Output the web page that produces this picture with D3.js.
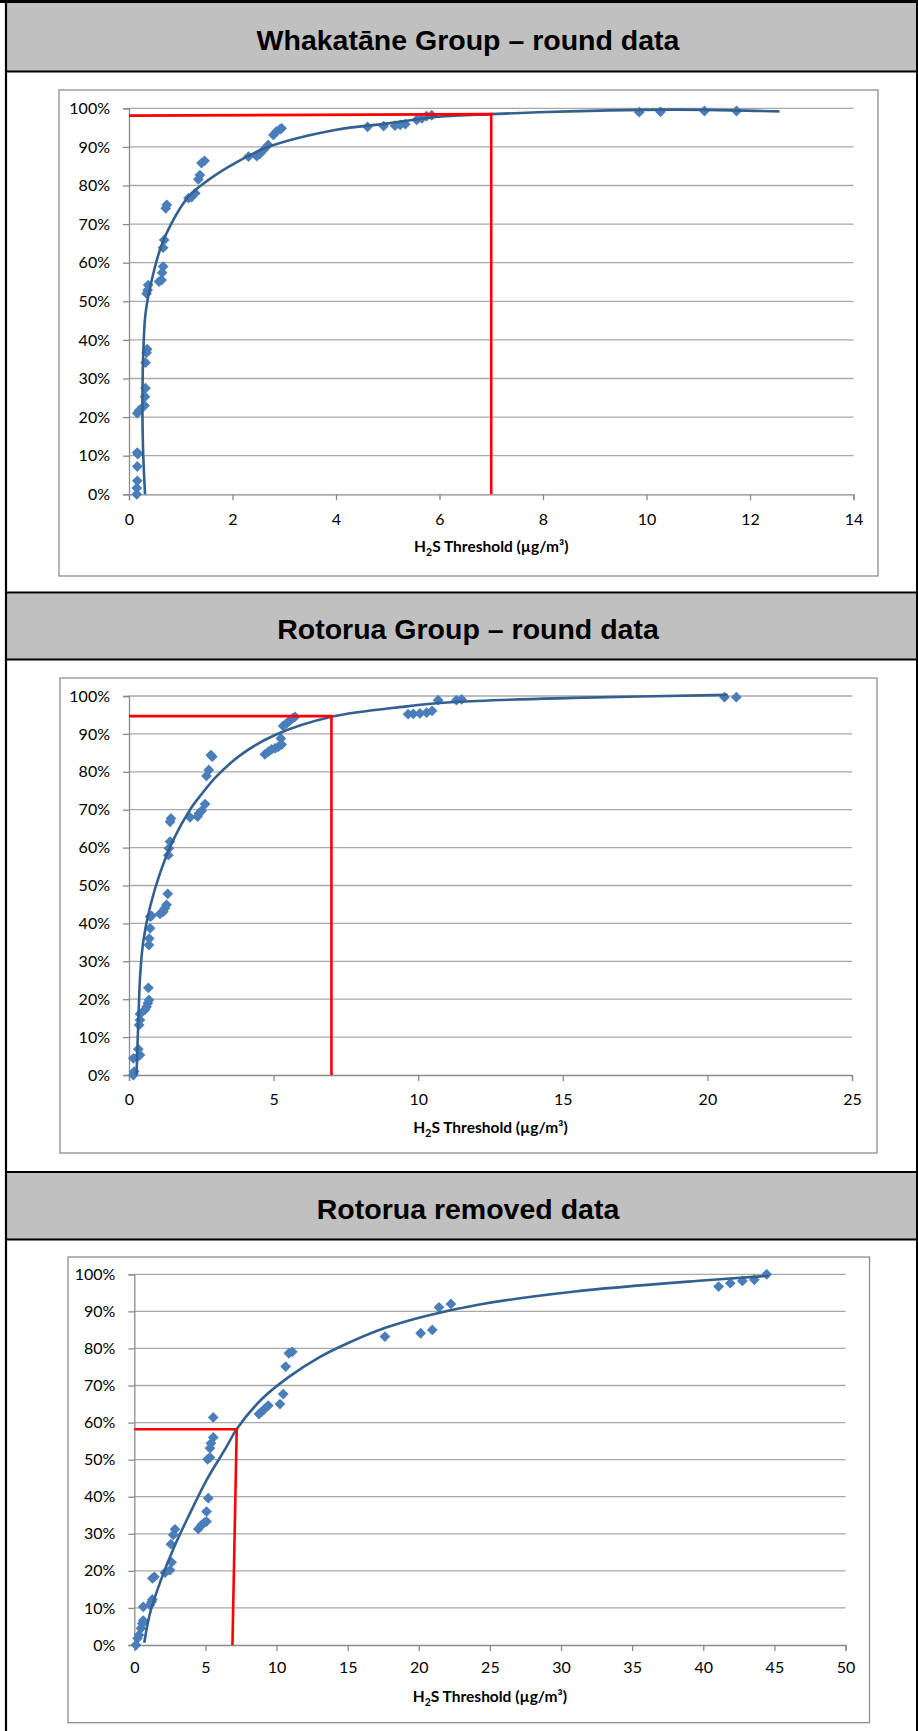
<!DOCTYPE html>
<html>
<head>
<meta charset="utf-8">
<script src="https://cdn.jsdelivr.net/npm/d3@7"></script>
<style>
  body { margin: 0; background: #fff; }
  svg { display: block; }
</style>
</head>
<body>
<div id="page"></div>
<script>
// ---- data ----

var titles = ["Whakatāne Group – round data", "Rotorua Group – round data", "Rotorua removed data"];
var yTicks = [0, 10, 20, 30, 40, 50, 60, 70, 80, 90, 100];

// Whakatane group
var whakTicks = [0, 2, 4, 6, 8, 10, 12, 14];
var whakX = [0.15, 0.15, 0.16, 0.16, 0.17, 0.16, 0.16, 0.2, 0.30, 0.31, 0.32, 0.32, 0.34, 0.35, 0.34, 0.36, 0.37,
  0.58, 0.63, 0.64, 0.66, 0.66, 0.68, 0.71, 0.73, 1.15, 1.21, 1.28, 1.34, 1.37, 1.40, 1.46,
  2.31, 2.47, 2.53, 2.60, 2.69, 2.79, 2.85, 2.92, 2.95, 4.61, 4.92, 5.14, 5.24, 5.34, 5.56, 5.66, 5.75, 5.85,
  9.86, 10.27, 11.12, 11.74];
var whakY = [0, 1.6, 3.5, 7.2, 10.4, 10.8, 21.0, 21.8, 23.0, 25.3, 27.5, 34.1, 36.7, 37.6, 52.0, 52.9, 54.2,
  55.1, 55.5, 57.4, 59.0, 63.9, 65.9, 74.1, 75.0, 76.7, 77.0, 78.0, 81.6, 82.7, 85.8, 86.4,
  87.5, 87.6, 88.2, 89.2, 90.5, 93.1, 94.0, 94.6, 94.8, 95.2, 95.4, 95.5, 95.7, 95.9, 97.0, 97.4, 98.0, 98.2,
  99.0, 99.1, 99.3, 99.3];
var whakFitX = [0.31, 0.27, 0.26, 0.28, 0.32, 0.44, 0.62, 0.82, 1.15, 1.53, 2.05, 2.69, 3.98, 5.01, 5.98, 7.0, 8.5, 9.9, 11.2, 12.57];
var whakFitY = [0, 12.3, 25.3, 38.0, 46.9, 55.5, 64.2, 70.2, 77.1, 81.4, 85.8, 90.0, 94.4, 96.1, 97.8, 98.5, 99.2, 99.6, 99.6, 99.2];
var whakRefX = [0, 7, 7];
var whakRefY = [98.1, 98.5, 0];

// Rotorua group
var rotTicks = [0, 5, 10, 15, 20, 25];
var rotX = [0.15, 0.18, 0.15, 0.30, 0.38, 0.32, 0.35, 0.38, 0.38, 0.55, 0.61, 0.65, 0.69, 0.67,
  0.69, 0.70, 0.73, 0.73, 0.78, 1.07, 1.19, 1.24, 1.30, 1.34, 1.36, 1.38, 1.42, 1.42, 1.45,
  2.11, 2.37, 2.42, 2.51, 2.63, 2.68, 2.76, 2.83, 2.88,
  4.70, 4.82, 4.93, 5.05, 5.16, 5.28, 5.25, 5.33, 5.45, 5.56, 5.65, 5.74,
  9.65, 9.83, 10.06, 10.29, 10.48, 10.69, 11.32, 11.5, 20.59, 21.0];
var rotY = [0, 0.9, 4.4, 4.8, 5.3, 6.8, 13.2, 14.5, 16.1, 17.2, 18.0, 18.9, 19.8, 23.0,
  34.3, 36.0, 38.7, 41.8, 42.0, 42.5, 43.1, 44.0, 44.9, 47.8, 58.0, 59.8, 61.6, 66.8, 67.7,
  68.0, 68.2, 69.0, 69.7, 71.5, 78.9, 80.5, 84.4, 84.0,
  84.6, 85.3, 85.9, 86.2, 86.6, 87.2, 88.8, 92.1, 92.8, 93.5, 94.1, 94.5,
  95.2, 95.3, 95.4, 95.6, 96.1, 98.9, 98.9, 99.1, 99.7, 99.7];
var rotFitX = [0.26, 0.32, 0.39, 0.50, 0.73, 1.07, 1.53, 2.11, 2.5, 3.0, 3.89, 5.05, 7.0, 9.54, 11.27, 15.37, 20.7];
var rotFitY = [0, 13.6, 26.8, 35.6, 44.4, 53.2, 62.0, 70.0, 74.0, 78.6, 84.6, 89.7, 94.5, 97.2, 98.4, 99.5, 100.3];
var rotRefX = [0, 7, 7];
var rotRefY = [94.7, 94.7, 0];

// Rotorua removed
var remTicks = [0, 5, 10, 15, 20, 25, 30, 35, 40, 45, 50];
var remX = [0.12, 0.23, 0.33, 0.47, 0.56, 0.63, 0.63, 1.10, 1.22, 1.27, 1.27, 1.41, 2.16, 2.51, 2.62,
  2.58, 2.74, 2.86, 4.50, 4.73, 4.92, 5.08, 5.08, 5.20, 5.15, 5.32, 5.32, 5.39, 5.55, 5.55,
  8.76, 8.95, 9.14, 9.42, 10.24, 10.47, 10.64, 10.87, 11.11,
  17.62, 20.13, 20.95, 21.42, 22.26, 41.08, 41.9, 42.75, 43.59, 44.46];
var remY = [0, 1.8, 2.7, 4.5, 5.8, 6.6, 10.3, 10.8, 11.7, 12.3, 18.0, 18.4, 19.5, 20.2, 22.3,
  27.2, 29.7, 31.2, 31.3, 32.4, 33.0, 33.3, 36.0, 39.6, 50.1, 50.6, 53.1, 54.4, 56.0, 61.4,
  62.3, 62.9, 63.6, 64.6, 65.0, 67.7, 75.1, 78.7, 79.1,
  83.2, 84.1, 85.0, 91.1, 92.0, 96.7, 97.6, 98.2, 98.5, 100];
var remFitX = [0.70, 1.10, 1.87, 2.81, 3.91, 5.08, 6.49, 7.19, 8.95, 10.82, 13.0, 15.0, 17.6, 20.43, 24.18, 30.83, 40.2, 44.6];
var remFitY = [0.6, 8.5, 17.5, 26.5, 35.5, 44.5, 53.5, 58.2, 66.3, 72.2, 77.6, 81.4, 85.5, 88.7, 91.8, 95.3, 98.4, 99.6];
var remRefX = [0, 7.2, 6.9];
var remRefY = [58.2, 58.2, 0];

// ---- page ----

var svgwidth = 918;
var svgheight = 1731;

var svg = d3.select("#page")
            .append("svg")
            .attr("width", svgwidth)
            .attr("height", svgheight);

svg.append("rect").attr("width", svgwidth).attr("height", svgheight).attr("fill", "#fff");

// header bands: [bandTop, bandBottom, title baseline]
var headers = [[3, 71, 50], [593.5, 659, 639], [1173, 1239, 1218.5]];

headers.forEach(function(h, i) {
    svg.append("rect")
        .attr("x", 6).attr("y", h[0])
        .attr("width", svgwidth - 6).attr("height", h[1] - h[0])
        .attr("fill", "#c0c0c0");
    if (i > 0) {
        svg.append("line").attr("x1", 6).attr("x2", svgwidth)
            .attr("y1", h[0] - 1).attr("y2", h[0] - 1)
            .attr("stroke", "#000").attr("stroke-width", 2.2);
    }
    svg.append("line").attr("x1", 6).attr("x2", svgwidth)
        .attr("y1", h[1] + 0.5).attr("y2", h[1] + 0.5)
        .attr("stroke", "#000").attr("stroke-width", 2.2);
    svg.append("text")
        .attr("x", 468).attr("y", h[2])
        .attr("text-anchor", "middle")
        .attr("font-family", "'Liberation Sans', Arial, sans-serif")
        .attr("font-weight", "bold")
        .attr("font-size", "28.5px")
        .attr("fill", "#000")
        .text(titles[i]);
});

// outer border
svg.append("line").attr("x1", 0).attr("x2", svgwidth).attr("y1", 1.5).attr("y2", 1.5)
    .attr("stroke", "#000").attr("stroke-width", 3);
svg.append("line").attr("x1", 6).attr("x2", 6).attr("y1", 0).attr("y2", svgheight)
    .attr("stroke", "#000").attr("stroke-width", 2.2);
svg.append("line").attr("x1", 917).attr("x2", 917).attr("y1", 0).attr("y2", svgheight)
    .attr("stroke", "#000").attr("stroke-width", 2);

// ---- one chart ----

function drawChart(cfg) {
    var xScale = d3.scaleLinear().domain([0, cfg.xTicks[cfg.xTicks.length - 1]]).range([cfg.left, cfg.right]);
    var yScale = d3.scaleLinear().domain([0, 100]).range([cfg.bottom, cfg.top]);

    // chart area frame
    svg.append("rect")
        .attr("x", cfg.frame[0]).attr("y", cfg.frame[1])
        .attr("width", cfg.frame[2] - cfg.frame[0]).attr("height", cfg.frame[3] - cfg.frame[1])
        .attr("fill", "#fff").attr("stroke", "#8e8e8e").attr("stroke-width", 1.3);

    // gridlines
    svg.append("g").selectAll("line")
        .data(yTicks.slice(1))
        .enter()
        .append("line")
        .attr("x1", cfg.left).attr("x2", cfg.right)
        .attr("y1", d => yScale(d)).attr("y2", d => yScale(d))
        .attr("stroke", "#a9a9a9").attr("stroke-width", 1.3);

    var leftAxis = d3.axisLeft(yScale).tickValues(yTicks).tickSize(6).tickPadding(13)
        .tickFormat(d => d + "%");
    var bottomAxis = d3.axisBottom(xScale).tickValues(cfg.xTicks).tickSize(6).tickPadding(cfg.pad)
        .tickFormat(d3.format("d"));

    var gy = svg.append("g").attr("transform", `translate(${cfg.left},0)`).call(leftAxis);
    var gx = svg.append("g").attr("transform", `translate(0,${cfg.bottom})`).call(bottomAxis);

    [gx, gy].forEach(function(g) {
        g.selectAll("path, line").attr("stroke", "#8a8a8a").attr("stroke-width", 1.3);
        g.selectAll("text")
            .attr("fill", "#000")
            .attr("font-family", "Lato, 'Open Sans', sans-serif")
            .attr("font-size", "16px");
    });

    // axis title
    var t = svg.append("text")
        .attr("x", (cfg.left + cfg.right) / 2)
        .attr("y", cfg.titleY)
        .attr("text-anchor", "middle")
        .attr("font-family", "Lato, 'Open Sans', sans-serif")
        .attr("font-weight", "bold")
        .attr("font-size", "15.5px")
        .attr("fill", "#000");
    t.append("tspan").text("H");
    t.append("tspan").attr("font-size", "10.5px").attr("dy", 4).text("2");
    t.append("tspan").attr("dy", -4).text("S Threshold (µg/m³)");

    // fitted curve
    var fit = cfg.fitX.map((d, i) => [d, cfg.fitY[i]]);
    var line = d3.line()
        .x(d => xScale(d[0]))
        .y(d => yScale(d[1]))
        .curve(d3.curveCatmullRom.alpha(0.5));

    // points
    var pts = cfg.x.map((d, i) => [d, cfg.y[i]]);
    var diamond = d3.symbol().type(d3.symbolSquare).size(58);
    svg.append("g").selectAll("path")
        .data(pts)
        .enter()
        .append("path")
        .attr("d", diamond)
        .attr("transform", d => `translate(${xScale(d[0])},${yScale(d[1])}) rotate(45)`)
        .attr("fill", "#4a7ebb");

    svg.append("path")
        .datum(fit)
        .attr("d", line)
        .attr("fill", "none")
        .attr("stroke", "#33608f")
        .attr("stroke-width", 2.6);

    // red reference line
    var ref = cfg.refX.map((d, i) => [d, cfg.refY[i]]);
    svg.append("path")
        .datum(ref)
        .attr("d", d3.line().x(d => xScale(d[0])).y(d => yScale(d[1])))
        .attr("fill", "none")
        .attr("stroke", "#ff0000")
        .attr("stroke-width", 2.6);
}

drawChart({
    frame: [59, 90, 878, 576], left: 129, right: 853.5, top: 108.3, bottom: 494.3,
    xTicks: whakTicks, pad: 13, titleY: 552,
    x: whakX, y: whakY, fitX: whakFitX, fitY: whakFitY, refX: whakRefX, refY: whakRefY
});

drawChart({
    frame: [60, 678, 877, 1153], left: 129, right: 852, top: 696, bottom: 1075,
    xTicks: rotTicks, pad: 13, titleY: 1133,
    x: rotX, y: rotY, fitX: rotFitX, fitY: rotFitY, refX: rotRefX, refY: rotRefY
});

drawChart({
    frame: [68, 1257, 869.5, 1722.7], left: 134.3, right: 845.5, top: 1274.3, bottom: 1645,
    xTicks: remTicks, pad: 11, titleY: 1701.5,
    x: remX, y: remY, fitX: remFitX, fitY: remFitY, refX: remRefX, refY: remRefY
});
</script>
</body>
</html>
